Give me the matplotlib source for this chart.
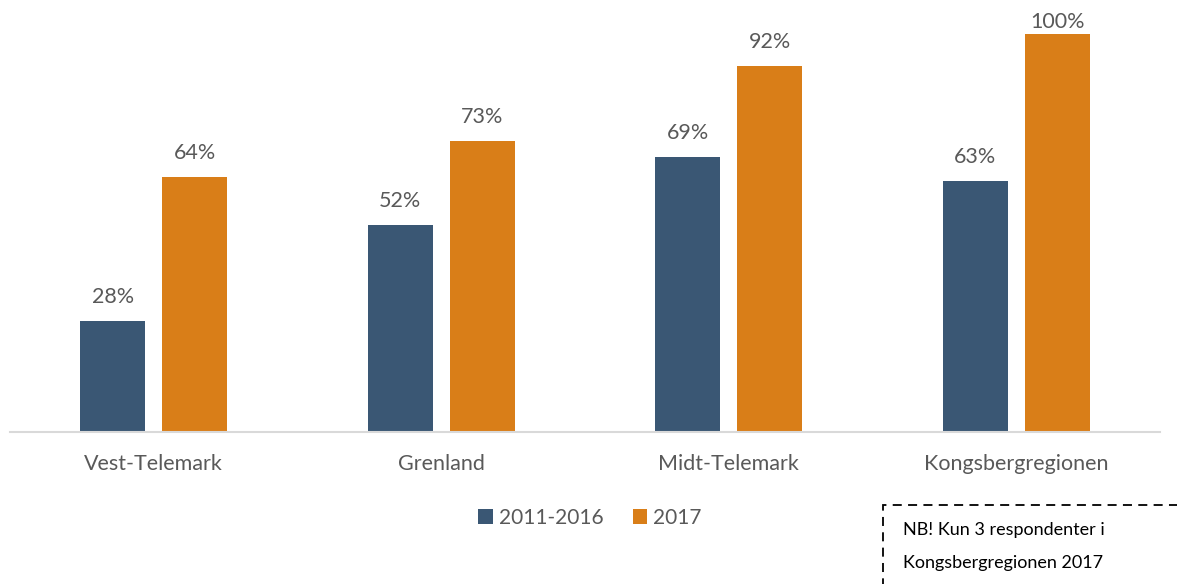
import matplotlib.pyplot as plt
from matplotlib.patches import Rectangle
import numpy as np

regions = ["Vest-Telemark", "Grenland", "Midt-Telemark", "Kongsbergregionen"]
series_names = ["2011-2016", "2017"]
values_2011_2016 = [28, 52, 69, 63]
values_2017 = [64, 73, 92, 100]

BLUE = "#3a5774"
ORANGE = "#d97e18"
GREY = "#595959"

plt.rcParams["font.family"] = ["Lato", "DejaVu Sans"]

fig = plt.figure(figsize=(11.77, 5.84), dpi=100)
ax = fig.add_axes([10 / 1177, 152 / 584, 1150 / 1177, 432 / 584])

x = np.arange(len(regions))
w = 0.226
off = 0.143
b1 = ax.bar(x - off, values_2011_2016, w, color=BLUE, label=series_names[0])
b2 = ax.bar(x + off, values_2017, w, color=ORANGE, label=series_names[1])

for bars in (b1, b2):
    for bar in bars:
        h = bar.get_height()
        # labels near the top are pushed down to stay inside the plot
        ax.text(bar.get_x() + bar.get_width() / 2, min(h + 3.5, 100.5), f"{h:.0f}%",
                ha="center", va="bottom", fontsize=15.5, color=GREY)

ax.set_xlim(-0.5, 3.5)
ax.set_ylim(0, 108.5)
ax.set_yticks([])
ax.set_xticks(x)
ax.set_xticklabels(regions, fontsize=15.5, color=GREY)
ax.tick_params(axis="x", length=0, pad=16)
for s in ["top", "right", "left"]:
    ax.spines[s].set_visible(False)
ax.spines["bottom"].set_color("#d9d9d9")
ax.spines["bottom"].set_linewidth(1.5)

fig.legend(loc="center", bbox_to_anchor=(590 / 1177, 1 - 518 / 584), ncol=2,
           frameon=False, fontsize=15, labelcolor=GREY, handlelength=0.7,
           handleheight=0.7, handletextpad=0.3, columnspacing=1.4)

# dashed note box, cut off at the right and bottom edges
box = Rectangle((883 / 1177, -0.05), 0.3, 1 - 505 / 584 + 0.05,
                transform=fig.transFigure, fill=False, edgecolor="black",
                linestyle=(0, (5, 3.5)), linewidth=1.3, clip_on=False)
fig.patches.append(box)
fig.text(903 / 1177, 1 - 530 / 584, "NB! Kun 3 respondenter i", fontsize=13,
         color="black", va="center")
fig.text(903 / 1177, 1 - 563 / 584, "Kongsbergregionen 2017", fontsize=13,
         color="black", va="center")

fig.savefig("out.png", dpi=100)
